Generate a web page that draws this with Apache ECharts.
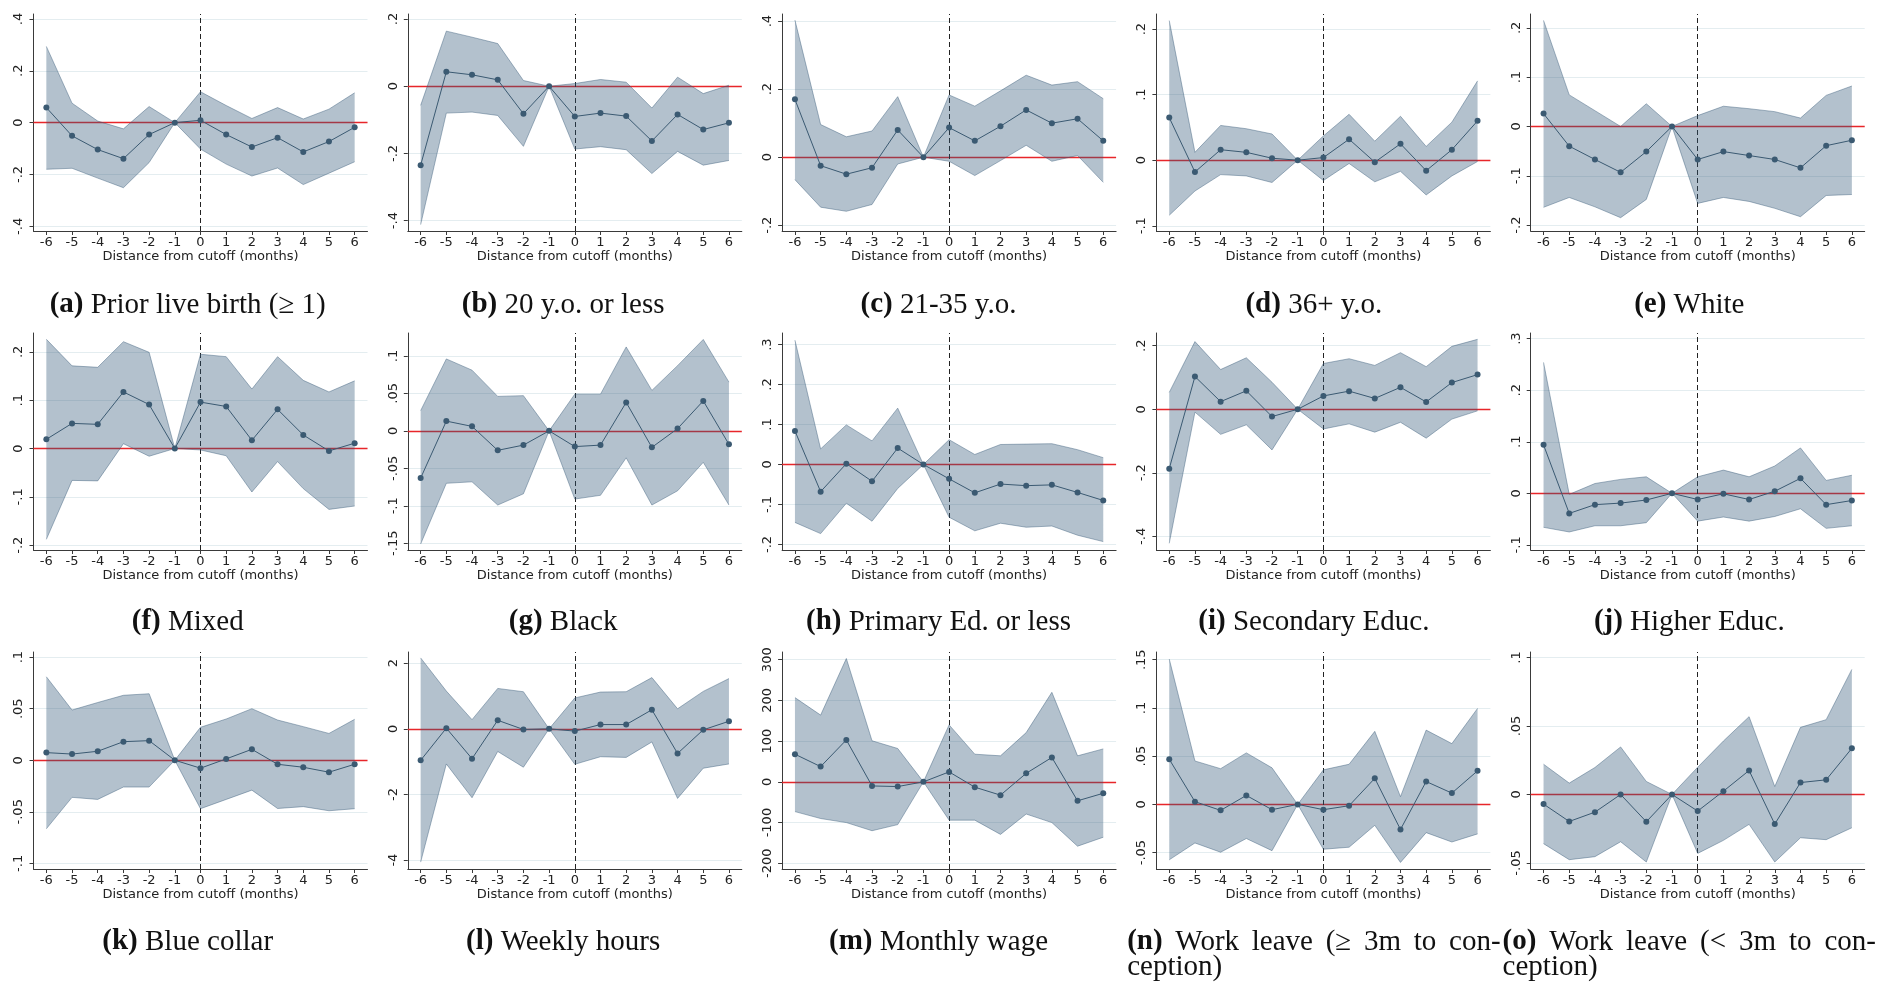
<!DOCTYPE html>
<html><head><meta charset="utf-8">
<script src="https://cdn.jsdelivr.net/npm/echarts@6/dist/echarts.min.js"></script>
<style>html,body{margin:0;padding:0;background:#fff}#c{width:1877px;height:984px}</style>
</head><body><div id="c"></div><script>
// ---------- data ----------
const months = [-6,-5,-4,-3,-2,-1,0,1,2,3,4,5,6];
const xTicks = [-6,-5,-4,-3,-2,-1,0,1,2,3,4,5,6];

const aEst = [0.058,-0.051,-0.104,-0.139,-0.046,0,0.009,-0.046,-0.094,-0.058,-0.113,-0.073,-0.018];
const aHi  = [0.294,0.075,0.006,-0.024,0.062,0,0.119,0.066,0.016,0.058,0.014,0.052,0.115];
const aLo  = [-0.18,-0.176,-0.214,-0.251,-0.154,0,-0.102,-0.16,-0.206,-0.175,-0.239,-0.195,-0.151];
const aTicks = [-0.4,-0.2,0,0.2,0.4];

const bEst = [-0.235,0.043,0.034,0.019,-0.082,0,-0.09,-0.08,-0.089,-0.163,-0.084,-0.129,-0.109];
const bHi  = [-0.057,0.164,0.146,0.127,0.017,0,0.008,0.02,0.012,-0.065,0.027,-0.022,0.003];
const bLo  = [-0.412,-0.08,-0.077,-0.087,-0.179,0,-0.187,-0.18,-0.189,-0.26,-0.194,-0.235,-0.221];
const bTicks = [-0.4,-0.2,0,0.2];

const cEst = [0.170,-0.025,-0.05,-0.031,0.08,0,0.087,0.048,0.091,0.139,0.1,0.113,0.048];
const cHi  = [0.403,0.096,0.06,0.077,0.178,0,0.183,0.15,0.195,0.241,0.212,0.222,0.172];
const cLo  = [-0.066,-0.147,-0.159,-0.139,-0.02,0,-0.012,-0.054,-0.01,0.035,-0.012,0.005,-0.074];
const cTicks = [-0.2,0,0.2,0.4];

const dEst = [0.065,-0.018,0.016,0.012,0.003,0,0.004,0.032,-0.003,0.025,-0.016,0.016,0.06];
const dHi  = [0.213,0.012,0.053,0.048,0.04,0,0.037,0.07,0.029,0.067,0.021,0.058,0.121];
const dLo  = [-0.084,-0.047,-0.022,-0.024,-0.034,0,-0.031,-0.005,-0.033,-0.017,-0.053,-0.024,-0.002];
const dTicks = [-0.1,0,0.1,0.2];

const eEst = [0.026,-0.04,-0.067,-0.093,-0.051,0,-0.067,-0.051,-0.059,-0.067,-0.084,-0.039,-0.028];
const eHi  = [0.215,0.064,0.032,0.0,0.046,0,0.022,0.041,0.036,0.03,0.017,0.063,0.082];
const eLo  = [-0.164,-0.144,-0.163,-0.185,-0.148,0,-0.156,-0.144,-0.152,-0.166,-0.183,-0.14,-0.138];
const eTicks = [-0.2,-0.1,0,0.1,0.2];

const fEst = [0.019,0.052,0.05,0.117,0.091,0,0.096,0.087,0.017,0.081,0.028,-0.005,0.011];
const fHi  = [0.226,0.171,0.168,0.221,0.199,0,0.195,0.19,0.123,0.19,0.141,0.117,0.14];
const fLo  = [-0.188,-0.066,-0.067,0.01,-0.016,0,-0.003,-0.015,-0.09,-0.027,-0.083,-0.126,-0.119];
const fTicks = [-0.2,-0.1,0,0.1,0.2];

const gEst = [-0.063,0.013,0.006,-0.026,-0.019,0,-0.021,-0.019,0.038,-0.022,0.003,0.04,-0.018];
const gHi  = [0.027,0.096,0.081,0.046,0.047,0,0.049,0.049,0.112,0.054,0.087,0.122,0.065];
const gLo  = [-0.151,-0.07,-0.068,-0.099,-0.084,0,-0.091,-0.086,-0.036,-0.099,-0.08,-0.042,-0.099];
const gTicks = [-0.15,-0.1,-0.05,0,0.05,0.1];

const hEst = [0.084,-0.068,0.002,-0.042,0.041,0,-0.036,-0.071,-0.049,-0.053,-0.051,-0.07,-0.09];
const hHi  = [0.311,0.039,0.099,0.059,0.141,0,0.062,0.025,0.05,0.051,0.052,0.037,0.017];
const hLo  = [-0.145,-0.173,-0.097,-0.142,-0.06,0,-0.132,-0.166,-0.147,-0.157,-0.154,-0.177,-0.193];
const hTicks = [-0.2,-0.1,0,0.1,0.2,0.3];

const iEst = [-0.187,0.103,0.024,0.058,-0.023,0,0.042,0.057,0.034,0.069,0.023,0.084,0.109];
const iHi  = [0.053,0.213,0.125,0.162,0.085,0,0.144,0.159,0.138,0.178,0.134,0.198,0.22];
const iLo  = [-0.422,-0.009,-0.079,-0.049,-0.128,0,-0.062,-0.046,-0.072,-0.041,-0.091,-0.031,-0.005];
const iTicks = [-0.4,-0.2,0,0.2];

const jEst = [0.094,-0.039,-0.022,-0.019,-0.013,0,-0.012,-0.001,-0.012,0.004,0.029,-0.022,-0.014];
const jHi  = [0.254,-0.002,0.019,0.027,0.032,0,0.032,0.045,0.032,0.053,0.088,0.025,0.035];
const jLo  = [-0.066,-0.075,-0.063,-0.063,-0.057,0,-0.054,-0.046,-0.054,-0.045,-0.03,-0.068,-0.063];
const jTicks = [-0.1,0,0.1,0.2,0.3];

const kEst = [0.0074,0.006,0.0087,0.018,0.019,0,-0.0077,0.0013,0.0106,-0.0039,-0.0068,-0.0116,-0.0039];
const kHi  = [0.081,0.0487,0.056,0.063,0.0645,0,0.032,0.04,0.05,0.039,0.0326,0.026,0.0397];
const kLo  = [-0.0665,-0.036,-0.038,-0.026,-0.026,0,-0.047,-0.038,-0.029,-0.0468,-0.045,-0.049,-0.047];
const kTicks = [-0.1,-0.05,0,0.05,0.1];

const lEst = [-0.96,0.02,-0.91,0.26,-0.02,0,-0.07,0.13,0.13,0.58,-0.75,-0.03,0.23];
const lHi  = [2.16,1.15,0.28,1.23,1.13,0,0.94,1.12,1.13,1.56,0.61,1.14,1.53];
const lLo  = [-4.06,-1.07,-2.1,-0.69,-1.17,0,-1.08,-0.85,-0.87,-0.4,-2.12,-1.2,-1.07];
const lTicks = [-4,-2,0,2];

const mEst = [68,37.5,103,-10,-11.5,0,24.5,-13,-32.6,21,60,-46.5,-28];
const mHi  = [207,164,303,101,82,0,140,68,64,121,220,64,81];
const mLo  = [-73,-90,-100,-120,-105,0,-94,-94,-129,-79,-100,-158,-136];
const mTicks = [-200,-100,0,100,200,300];

const nEst = [0.0468,0.0028,-0.0062,0.0093,-0.0055,0,-0.0055,-0.0014,0.027,-0.026,0.0237,0.0117,0.0348];
const nHi  = [0.1507,0.045,0.037,0.0534,0.0379,0,0.0358,0.0416,0.0757,0.008,0.077,0.063,0.0995];
const nLo  = [-0.0575,-0.04,-0.0496,-0.0354,-0.048,0,-0.0465,-0.0444,-0.0217,-0.0602,-0.0293,-0.039,-0.0306];
const nTicks = [-0.05,0,0.05,0.1,0.15];

const oEst = [-0.007,-0.0197,-0.0129,0,-0.0199,0,-0.0121,0.0024,0.0175,-0.0216,0.0087,0.0107,0.0337];
const oHi  = [0.0221,0.0083,0.0197,0.0347,0.0095,0,0.0199,0.039,0.0568,0.0058,0.049,0.0546,0.0913];
const oLo  = [-0.0359,-0.0476,-0.0454,-0.0345,-0.0493,0,-0.043,-0.0335,-0.0218,-0.0493,-0.0316,-0.033,-0.0243];
const oTicks = [-0.05,0,0.05,0.1];

const xTitle = 'Distance from cutoff (months)';
const captionLabels = ['(a)','(b)','(c)','(d)','(e)','(f)','(g)','(h)','(i)','(j)','(k)','(l)','(m)','(n)','(o)'];
const captionTexts = ['Prior live birth (≥ 1)','20 y.o. or less','21-35 y.o.','36+ y.o.','White',
  'Mixed','Black','Primary Ed. or less','Secondary Educ.','Higher Educ.',
  'Blue collar','Weekly hours','Monthly wage','Work leave (≥ 3m to con-|ception)','Work leave (< 3m to con-|ception)'];

// ---------- layout / style ----------
const panels = [
  {est:aEst,hi:aHi,lo:aLo,ticks:aTicks,range:[-0.418,0.419]},
  {est:bEst,hi:bHi,lo:bLo,ticks:bTicks,range:[-0.431,0.215]},
  {est:cEst,hi:cHi,lo:cLo,ticks:cTicks,range:[-0.217,0.421]},
  {est:dEst,hi:dHi,lo:dLo,ticks:dTicks,range:[-0.108,0.223]},
  {est:eEst,hi:eHi,lo:eLo,ticks:eTicks,range:[-0.212,0.228]},
  {est:fEst,hi:fHi,lo:fLo,ticks:fTicks,range:[-0.21,0.239]},
  {est:gEst,hi:gHi,lo:gLo,ticks:gTicks,range:[-0.159,0.1306]},
  {est:hEst,hi:hHi,lo:hLo,ticks:hTicks,range:[-0.214,0.329]},
  {est:iEst,hi:iHi,lo:iLo,ticks:iTicks,range:[-0.443,0.24]},
  {est:jEst,hi:jHi,lo:jLo,ticks:jTicks,range:[-0.11,0.311]},
  {est:kEst,hi:kHi,lo:kLo,ticks:kTicks,range:[-0.1055,0.105]},
  {est:lEst,hi:lHi,lo:lLo,ticks:lTicks,range:[-4.27,2.34]},
  {est:mEst,hi:mHi,lo:mLo,ticks:mTicks,range:[-214,319]},
  {est:nEst,hi:nHi,lo:nLo,ticks:nTicks,range:[-0.067,0.158]},
  {est:oEst,hi:oHi,lo:oLo,ticks:oTicks,range:[-0.0544,0.104]}
];

const COL_LEFT = 33.5, COL_STEP = 374.3, GRID_W = 334, GRID_H = 217;
const ROW_TOP = [14, 333, 652];
const CAP_Y = [305, 622, 942];
const CAP_Y2 = 967;
const CAP_FONT = 'Liberation Serif', CAP_SIZE = 29;
const AX_COLOR = '#3a3a3a';
const BAND_FILL = 'rgba(48,88,120,0.37)';
const BAND_EDGE = 'rgba(55,90,120,0.55)';
const EST_COLOR = '#3b5a72';
const SANS = 'DejaVu Sans';

function fmtTick(v){
  if (v === 0) return '0';
  return String(v).replace(/^(-?)0\./, '$1.');
}

function renderBand(params, api){
  if (params.dataIndexInside !== 0) return null;
  const n = params.dataInsideLength;
  const up = [], dn = [];
  for (let k = 0; k < n; k++) {
    up.push(api.coord([api.value(0, k), api.value(2, k)]));
    dn.push(api.coord([api.value(0, k), api.value(1, k)]));
  }
  const poly = up.concat(dn.slice().reverse());
  return {type: 'group', children: [
    {type: 'polygon', shape: {points: poly}, style: {fill: BAND_FILL}},
    {type: 'polyline', shape: {points: up}, style: {fill: null, stroke: BAND_EDGE, lineWidth: 0.8}},
    {type: 'polyline', shape: {points: dn}, style: {fill: null, stroke: BAND_EDGE, lineWidth: 0.8}}
  ]};
}

const grids = [], xAxes = [], yAxes = [], series = [];
panels.forEach((p, i) => {
  const col = i % 5, row = Math.floor(i / 5);
  grids.push({left: COL_LEFT + COL_STEP * col, top: ROW_TOP[row], width: GRID_W, height: GRID_H});
  xAxes.push({
    gridIndex: i, type: 'value', min: -6.5, max: 6.5,
    axisLine: {show: true, onZero: false, lineStyle: {color: AX_COLOR, width: 1}},
    axisTick: {show: true, customValues: xTicks, length: 4, lineStyle: {color: AX_COLOR}},
    axisLabel: {show: true, customValues: xTicks, margin: 5, color: '#222', fontFamily: SANS, fontSize: 13,
      formatter: v => String(v)},
    splitLine: {show: false},
    name: xTitle, nameLocation: 'middle', nameGap: 17,
    nameTextStyle: {color: '#222', fontFamily: SANS, fontSize: 13}
  });
  yAxes.push({
    gridIndex: i, type: 'value', min: p.range[0], max: p.range[1],
    axisLine: {show: true, onZero: false, lineStyle: {color: AX_COLOR, width: 1}},
    axisTick: {show: true, customValues: p.ticks, length: 4, lineStyle: {color: AX_COLOR}},
    axisLabel: {show: true, customValues: p.ticks, rotate: 90, margin: 8, color: '#222',
      fontFamily: SANS, fontSize: 13, formatter: fmtTick},
    splitLine: {show: true, lineStyle: {color: '#e4edf0', width: 1}}
  });
  series.push({
    type: 'custom', xAxisIndex: i, yAxisIndex: i, silent: true, z: 2,
    data: months.map((m, k) => [m, p.lo[k], p.hi[k]]),
    encode: {x: 0, y: [1, 2]},
    renderItem: renderBand
  });
  series.push({
    type: 'line', xAxisIndex: i, yAxisIndex: i,
    data: months.map((m, k) => [m, p.est[k]]), symbol: 'circle', symbolSize: 6, silent: true, z: 6,
    lineStyle: {color: EST_COLOR, width: 1}, itemStyle: {color: EST_COLOR},
    markLine: {
      silent: true, symbol: ['none', 'none'], label: {show: false}, z: 1, animation: false,
      data: [
        {yAxis: 0, lineStyle: {color: '#e8262a', width: 1.4, type: 'solid'}},
        {xAxis: 0, lineStyle: {color: '#222', width: 1, type: [5, 3]}}
      ]
    }
  });
});

// ---------- captions ----------
const mctx = document.createElement('canvas').getContext('2d');
function textW(t, bold){
  mctx.font = (bold ? 'bold ' : '') + CAP_SIZE + 'px "' + CAP_FONT + '"';
  return mctx.measureText(t).width;
}
const graphics = [];
const richDef = {b: {fontWeight: 'bold', fontFamily: CAP_FONT, fontSize: CAP_SIZE, fill: '#111'}};
captionLabels.forEach((lab, i) => {
  const col = i % 5, row = Math.floor(i / 5);
  const txt = captionTexts[i];
  if (txt.indexOf('|') < 0) {
    graphics.push({type: 'text', x: 187.7 + 375.4 * col, y: CAP_Y[row], silent: true,
      style: {text: '{b|' + lab + '} ' + txt, rich: richDef, fontFamily: CAP_FONT, fontSize: CAP_SIZE,
        fill: '#111', align: 'center', verticalAlign: 'middle'}});
  } else {
    const parts = txt.split('|');
    const words = [lab].concat(parts[0].split(' '));
    const left = 375.4 * col + 1, right = 375.4 * (col + 1) - 1;
    const widths = words.map((w, k) => textW(w, k === 0));
    const total = widths.reduce((s, v) => s + v, 0);
    const gap = (right - left - total) / (words.length - 1);
    let x = left;
    words.forEach((w, k) => {
      graphics.push({type: 'text', x: x, y: CAP_Y[row], silent: true,
        style: {text: w, fontFamily: CAP_FONT, fontSize: CAP_SIZE, fontWeight: k === 0 ? 'bold' : 'normal',
          fill: '#111', align: 'left', verticalAlign: 'middle'}});
      x += widths[k] + gap;
    });
    graphics.push({type: 'text', x: left, y: CAP_Y2, silent: true,
      style: {text: parts[1], fontFamily: CAP_FONT, fontSize: CAP_SIZE, fill: '#111',
        align: 'left', verticalAlign: 'middle'}});
  }
});

const chart = echarts.init(document.getElementById('c'), null, {renderer: 'canvas'});
chart.setOption({
  backgroundColor: '#fff',
  animation: false,
  grid: grids, xAxis: xAxes, yAxis: yAxes, series: series,
  graphic: graphics
});
</script></body></html>
